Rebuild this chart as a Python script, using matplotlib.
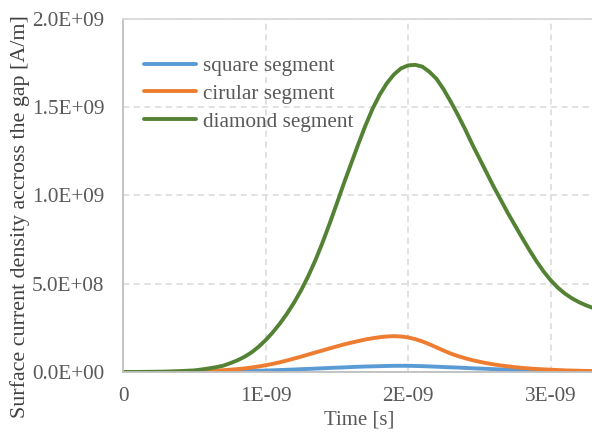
import matplotlib.pyplot as plt

# --------------------------
# DATA (time in ns, current density in 1E+09 A/m)
# --------------------------
time_ns = [0.00, 0.05, 0.10, 0.15, 0.20, 0.25, 0.30, 0.35, 0.40, 0.45,
           0.50, 0.55, 0.60, 0.65, 0.70, 0.75, 0.80, 0.85, 0.90, 0.95,
           1.00, 1.05, 1.10, 1.15, 1.20, 1.25, 1.30, 1.35, 1.40, 1.45,
           1.50, 1.55, 1.60, 1.65, 1.70, 1.75, 1.80, 1.85, 1.90, 1.95,
           2.00, 2.05, 2.10, 2.15, 2.20, 2.25, 2.30, 2.35, 2.40, 2.45,
           2.50, 2.55, 2.60, 2.65, 2.70, 2.75, 2.80, 2.85, 2.90, 2.95,
           3.00, 3.05, 3.10, 3.15, 3.20, 3.25, 3.30]

square = [0, 0.00002, 0.00005, 0.00008, 0.0001, 0.0002, 0.0003, 0.0004, 0.0005, 0.0007,
          0.001, 0.0012, 0.0015, 0.002, 0.0025, 0.003, 0.004, 0.005, 0.006, 0.007,
          0.008, 0.0095, 0.011, 0.0125, 0.014, 0.016, 0.0175, 0.019, 0.021, 0.023,
          0.0245, 0.026, 0.028, 0.0295, 0.031, 0.032, 0.033, 0.034, 0.035, 0.035,
          0.035, 0.034, 0.033, 0.0315, 0.030, 0.028, 0.0265, 0.025, 0.023, 0.021,
          0.0195, 0.018, 0.016, 0.0145, 0.013, 0.0115, 0.010, 0.009, 0.008, 0.007,
          0.006, 0.005, 0.0045, 0.004, 0.003, 0.0025, 0.002]

circular = [0, 0.00005, 0.0001, 0.0002, 0.0003, 0.0005, 0.0007, 0.001, 0.0015, 0.002,
            0.003, 0.0045, 0.006, 0.008, 0.010, 0.013, 0.016, 0.020, 0.025, 0.031,
            0.038, 0.046, 0.055, 0.065, 0.076, 0.087, 0.099, 0.1105, 0.122, 0.1335,
            0.145, 0.156, 0.166, 0.175, 0.184, 0.191, 0.197, 0.201, 0.203, 0.201,
            0.196, 0.186, 0.173, 0.157, 0.139, 0.121, 0.104, 0.090, 0.078, 0.067,
            0.058, 0.050, 0.043, 0.037, 0.032, 0.027, 0.023, 0.020, 0.017, 0.015,
            0.013, 0.011, 0.009, 0.008, 0.007, 0.006, 0.005]

diamond = [0, 0.0001, 0.0004, 0.0007, 0.001, 0.0015, 0.002, 0.0035, 0.005, 0.007,
           0.009, 0.014, 0.020, 0.027, 0.035, 0.049, 0.065, 0.085, 0.110, 0.142,
           0.180, 0.224, 0.274, 0.330, 0.393, 0.464, 0.544, 0.634, 0.734, 0.842,
           0.955, 1.070, 1.180, 1.290, 1.395, 1.490, 1.570, 1.635, 1.685, 1.720,
           1.737, 1.740, 1.730, 1.700, 1.660, 1.600, 1.530, 1.455, 1.375, 1.290,
           1.210, 1.130, 1.050, 0.975, 0.900, 0.830, 0.760, 0.692, 0.628, 0.570,
           0.520, 0.478, 0.444, 0.417, 0.395, 0.377, 0.362]

series_names = ["square segment", "cirular segment", "diamond segment"]
series_colors = ["#5B9BD5", "#ED7D31", "#548235"]

x_ticks = [0, 1e-9, 2e-9, 3e-9]
x_labels = ["0", "1E-09", "2E-09", "3E-09"]
y_ticks = [0, 5e8, 1e9, 1.5e9, 2e9]
y_labels = ["0.0E+00", "5.0E+08", "1.0E+09", "1.5E+09", "2.0E+09"]

t = [v * 1e-9 for v in time_ns]

# --------------------------
# PLOT
# --------------------------
plt.rcParams["font.family"] = ["Liberation Serif", "DejaVu Serif"]
tick_color = "#595959"

fig = plt.figure(figsize=(5.92, 4.34), dpi=100)
ax = fig.add_axes([0.2078, 0.1429, 0.7922, 0.8134])

for values, name, color in zip([square, circular, diamond], series_names, series_colors):
    ax.plot(t, [v * 1e9 for v in values], color=color, lw=2.8,
            label=name, solid_capstyle="round", solid_joinstyle="round")

ax.set_xlim(0, 3.29e-9)
ax.set_ylim(0, 2e9)
ax.set_xticks(x_ticks)
ax.set_xticklabels(x_labels)
ax.set_yticks(y_ticks)
ax.set_yticklabels(y_labels)
ax.tick_params(length=0, labelsize=15.3, colors=tick_color)
ax.tick_params(axis="y", pad=13.5)
ax.tick_params(axis="x", pad=11)

ax.grid(True, color="#D9D9D9", linestyle=(0, (4, 3)), lw=1.1)
ax.set_axisbelow(True)
for side in ["left", "bottom"]:
    ax.spines[side].set_color("#BFBFBF")
    ax.spines[side].set_linewidth(1.3)
ax.spines["top"].set_color("#D9D9D9")
ax.spines["top"].set_linewidth(1.3)
ax.spines["right"].set_visible(False)

fig.text(359 / 592, 1 - 420 / 434, "Time [s]", fontsize=15,
         color=tick_color, ha="center", va="center")
fig.text(20 / 592, 1 - 217 / 434, "Surface current density accross the gap [A/m]",
         fontsize=15.8, color="#404040", rotation=90, ha="center", va="center")

leg = ax.legend(loc="upper left", bbox_to_anchor=(0.0, 0.955), frameon=False,
                fontsize=15.3, handlelength=2.45, handletextpad=0.3,
                labelspacing=0.38, borderaxespad=0.6)
for txt in leg.get_texts():
    txt.set_color(tick_color)

fig.savefig("out.png", dpi=100)
